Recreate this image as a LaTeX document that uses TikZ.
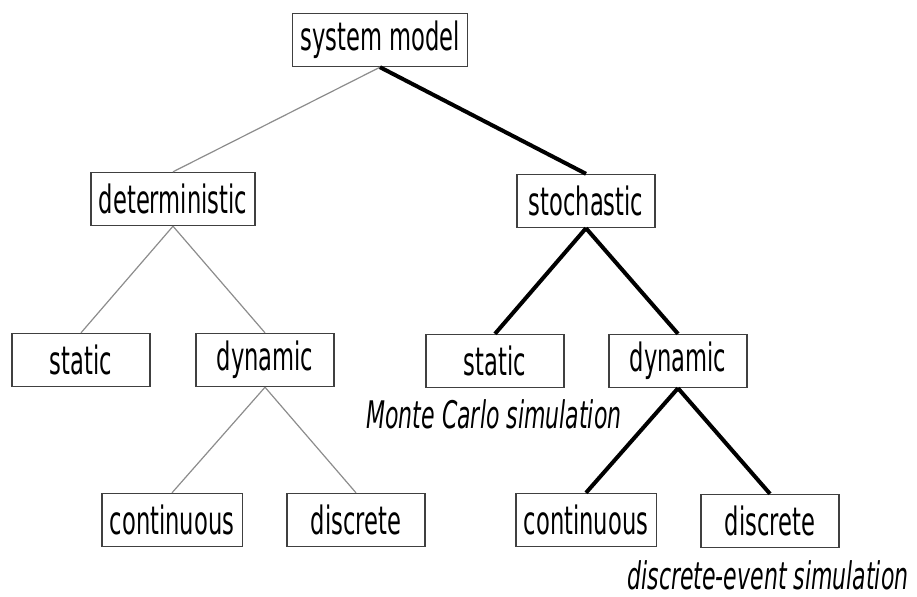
\documentclass[tikz,border=0pt]{standalone}
\usepackage{fontspec}
\setmainfont{DejaVu Sans}[FakeStretch=0.58]
\usepackage{tikz}

\begin{document}
\begin{tikzpicture}[
    x=0.5pt, y=-0.5pt,
    font=\fontsize{19.5}{21}\selectfont,
    box/.style={draw=black!75,line width=0.7pt,minimum width=69pt,minimum height=26.5pt,inner xsep=4pt,fill=white},
    thin/.style={draw=black!45,line width=0.6pt},
    thick/.style={draw=black,line width=2pt},
    sim/.style={font=\fontsize{19}{21}\selectfont\itshape,inner sep=0.5pt}
]
\useasboundingbox (0,0) rectangle (917,596);

% Root
\node[box] (root) at (380,40) {system model};

% Level 1
\node[box] (det) at (173,199) {deterministic};
\node[box] (sto) at (586,201) {stochastic};

% Level 2
\node[box] (dstat) at (81,360) {static};
\node[box] (ddyn) at (265,360) {dynamic};
\node[box] (sstat) at (495,361) {static};
\node[box] (sdyn) at (678,361) {dynamic};

% Level 3
\node[box] (dcont) at (172,520) {continuous};
\node[box] (ddisc) at (356,520) {discrete};
\node[box] (scont) at (586,520) {continuous};
\node[box] (sdisc) at (770,521) {discrete};

% Simulation labels
\node[sim] (mc) at (494,414) {Monte Carlo simulation};
\node[sim] (des) at (768,575) {discrete-event simulation};

% Edges
\draw[thin] (root.south) -- (det.north);
\draw[thick] (root.south) -- (sto.north);

\draw[thin] (det.south) -- (dstat.north);
\draw[thin] (det.south) -- (ddyn.north);
\draw[thick] (sto.south) -- (sstat.north);
\draw[thick] (sto.south) -- (sdyn.north);

\draw[thin] (ddyn.south) -- (dcont.north);
\draw[thin] (ddyn.south) -- (ddisc.north);
\draw[thick] (sdyn.south) -- (scont.north);
\draw[thick] (sdyn.south) -- (sdisc.north);

\end{tikzpicture}
\end{document}
